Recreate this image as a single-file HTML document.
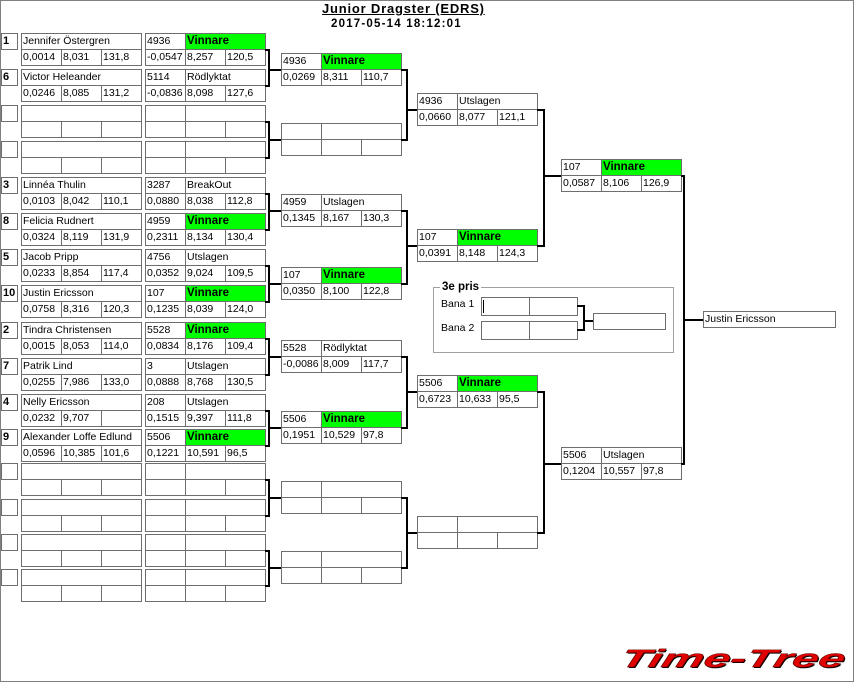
<!DOCTYPE html>
<html><head><meta charset="utf-8"><style>
body{margin:0;width:854px;height:684px;position:relative;background:#fff;overflow:hidden;font-family:"Liberation Sans",sans-serif;color:#000}
.frame{position:absolute;left:0;top:0;width:854px;height:682px;box-sizing:border-box;border:1px solid #808080}
.c{position:absolute;box-sizing:border-box;height:17px;border:1px solid #6e6e6e;font-size:10.5px;line-height:15px;padding-left:1px;white-space:nowrap;overflow:hidden;background:#fff}
.e,.r{position:absolute;left:0}
.s{left:1px;top:0;width:17px;font-weight:bold;font-size:11px}
.n{left:21px;top:0;width:121px}
.p1{left:21px;top:16px;width:41px}.p2{left:61px;top:16px;width:41px}.p3{left:101px;top:16px;width:41px}
.i{left:0;top:0;width:41px}.st{left:40px;top:0;width:81px}
.q1{left:0;top:16px;width:41px}.q2{left:40px;top:16px;width:41px}.q3{left:80px;top:16px;width:41px}
.g{background:#00ff00;font-weight:bold;font-size:11.5px}
.t{position:absolute;white-space:nowrap;font-weight:bold}
svg{position:absolute;left:0;top:0}
</style></head><body>
<div class="frame"></div>
<div class="t" style="left:322px;top:1px;font-size:13px;line-height:15px;letter-spacing:0.8px;text-decoration:underline">Junior Dragster (EDRS)</div>
<div class="t" style="left:331px;top:18px;font-size:11.5px;line-height:13px;letter-spacing:1.2px">2017-05-14 18:12:01</div>

<!-- Round 1 entrants -->
<div class="e" style="top:33px"><div class="c s">1</div><div class="c n">Jennifer Östergren</div><div class="c p1">0,0014</div><div class="c p2">8,031</div><div class="c p3">131,8</div></div>
<div class="r" style="left:145px;top:33px"><div class="c i">4936</div><div class="c st g">Vinnare</div><div class="c q1">-0,0547</div><div class="c q2">8,257</div><div class="c q3">120,5</div></div>

<div class="e" style="top:69px"><div class="c s">6</div><div class="c n">Victor Heleander</div><div class="c p1">0,0246</div><div class="c p2">8,085</div><div class="c p3">131,2</div></div>
<div class="r" style="left:145px;top:69px"><div class="c i">5114</div><div class="c st">Rödlyktat</div><div class="c q1">-0,0836</div><div class="c q2">8,098</div><div class="c q3">127,6</div></div>

<div class="e" style="top:105px"><div class="c s"></div><div class="c n"></div><div class="c p1"></div><div class="c p2"></div><div class="c p3"></div></div>
<div class="r" style="left:145px;top:105px"><div class="c i"></div><div class="c st"></div><div class="c q1"></div><div class="c q2"></div><div class="c q3"></div></div>

<div class="e" style="top:141px"><div class="c s"></div><div class="c n"></div><div class="c p1"></div><div class="c p2"></div><div class="c p3"></div></div>
<div class="r" style="left:145px;top:141px"><div class="c i"></div><div class="c st"></div><div class="c q1"></div><div class="c q2"></div><div class="c q3"></div></div>

<div class="e" style="top:177px"><div class="c s">3</div><div class="c n">Linnéa Thulin</div><div class="c p1">0,0103</div><div class="c p2">8,042</div><div class="c p3">110,1</div></div>
<div class="r" style="left:145px;top:177px"><div class="c i">3287</div><div class="c st">BreakOut</div><div class="c q1">0,0880</div><div class="c q2">8,038</div><div class="c q3">112,8</div></div>

<div class="e" style="top:213px"><div class="c s">8</div><div class="c n">Felicia Rudnert</div><div class="c p1">0,0324</div><div class="c p2">8,119</div><div class="c p3">131,9</div></div>
<div class="r" style="left:145px;top:213px"><div class="c i">4959</div><div class="c st g">Vinnare</div><div class="c q1">0,2311</div><div class="c q2">8,134</div><div class="c q3">130,4</div></div>

<div class="e" style="top:249px"><div class="c s">5</div><div class="c n">Jacob Pripp</div><div class="c p1">0,0233</div><div class="c p2">8,854</div><div class="c p3">117,4</div></div>
<div class="r" style="left:145px;top:249px"><div class="c i">4756</div><div class="c st">Utslagen</div><div class="c q1">0,0352</div><div class="c q2">9,024</div><div class="c q3">109,5</div></div>

<div class="e" style="top:285px"><div class="c s">10</div><div class="c n">Justin Ericsson</div><div class="c p1">0,0758</div><div class="c p2">8,316</div><div class="c p3">120,3</div></div>
<div class="r" style="left:145px;top:285px"><div class="c i">107</div><div class="c st g">Vinnare</div><div class="c q1">0,1235</div><div class="c q2">8,039</div><div class="c q3">124,0</div></div>

<div class="e" style="top:322px"><div class="c s">2</div><div class="c n">Tindra Christensen</div><div class="c p1">0,0015</div><div class="c p2">8,053</div><div class="c p3">114,0</div></div>
<div class="r" style="left:145px;top:322px"><div class="c i">5528</div><div class="c st g">Vinnare</div><div class="c q1">0,0834</div><div class="c q2">8,176</div><div class="c q3">109,4</div></div>

<div class="e" style="top:358px"><div class="c s">7</div><div class="c n">Patrik Lind</div><div class="c p1">0,0255</div><div class="c p2">7,986</div><div class="c p3">133,0</div></div>
<div class="r" style="left:145px;top:358px"><div class="c i">3</div><div class="c st">Utslagen</div><div class="c q1">0,0888</div><div class="c q2">8,768</div><div class="c q3">130,5</div></div>

<div class="e" style="top:394px"><div class="c s">4</div><div class="c n">Nelly Ericsson</div><div class="c p1">0,0232</div><div class="c p2">9,707</div><div class="c p3"></div></div>
<div class="r" style="left:145px;top:394px"><div class="c i">208</div><div class="c st">Utslagen</div><div class="c q1">0,1515</div><div class="c q2">9,397</div><div class="c q3">111,8</div></div>

<div class="e" style="top:429px"><div class="c s">9</div><div class="c n">Alexander Loffe Edlund</div><div class="c p1">0,0596</div><div class="c p2">10,385</div><div class="c p3">101,6</div></div>
<div class="r" style="left:145px;top:429px"><div class="c i">5506</div><div class="c st g">Vinnare</div><div class="c q1">0,1221</div><div class="c q2">10,591</div><div class="c q3">96,5</div></div>

<div class="e" style="top:463px"><div class="c s"></div><div class="c n"></div><div class="c p1"></div><div class="c p2"></div><div class="c p3"></div></div>
<div class="r" style="left:145px;top:463px"><div class="c i"></div><div class="c st"></div><div class="c q1"></div><div class="c q2"></div><div class="c q3"></div></div>

<div class="e" style="top:499px"><div class="c s"></div><div class="c n"></div><div class="c p1"></div><div class="c p2"></div><div class="c p3"></div></div>
<div class="r" style="left:145px;top:499px"><div class="c i"></div><div class="c st"></div><div class="c q1"></div><div class="c q2"></div><div class="c q3"></div></div>

<div class="e" style="top:534px"><div class="c s"></div><div class="c n"></div><div class="c p1"></div><div class="c p2"></div><div class="c p3"></div></div>
<div class="r" style="left:145px;top:534px"><div class="c i"></div><div class="c st"></div><div class="c q1"></div><div class="c q2"></div><div class="c q3"></div></div>

<div class="e" style="top:569px"><div class="c s"></div><div class="c n"></div><div class="c p1"></div><div class="c p2"></div><div class="c p3"></div></div>
<div class="r" style="left:145px;top:569px"><div class="c i"></div><div class="c st"></div><div class="c q1"></div><div class="c q2"></div><div class="c q3"></div></div>

<!-- Round 2 -->
<div class="r" style="left:281px;top:53px"><div class="c i">4936</div><div class="c st g">Vinnare</div><div class="c q1">0,0269</div><div class="c q2">8,311</div><div class="c q3">110,7</div></div>
<div class="r" style="left:281px;top:123px"><div class="c i"></div><div class="c st"></div><div class="c q1"></div><div class="c q2"></div><div class="c q3"></div></div>
<div class="r" style="left:281px;top:194px"><div class="c i">4959</div><div class="c st">Utslagen</div><div class="c q1">0,1345</div><div class="c q2">8,167</div><div class="c q3">130,3</div></div>
<div class="r" style="left:281px;top:267px"><div class="c i">107</div><div class="c st g">Vinnare</div><div class="c q1">0,0350</div><div class="c q2">8,100</div><div class="c q3">122,8</div></div>
<div class="r" style="left:281px;top:340px"><div class="c i">5528</div><div class="c st">Rödlyktat</div><div class="c q1">-0,0086</div><div class="c q2">8,009</div><div class="c q3">117,7</div></div>
<div class="r" style="left:281px;top:411px"><div class="c i">5506</div><div class="c st g">Vinnare</div><div class="c q1">0,1951</div><div class="c q2">10,529</div><div class="c q3">97,8</div></div>
<div class="r" style="left:281px;top:481px"><div class="c i"></div><div class="c st"></div><div class="c q1"></div><div class="c q2"></div><div class="c q3"></div></div>
<div class="r" style="left:281px;top:551px"><div class="c i"></div><div class="c st"></div><div class="c q1"></div><div class="c q2"></div><div class="c q3"></div></div>

<!-- Round 3 -->
<div class="r" style="left:417px;top:93px"><div class="c i">4936</div><div class="c st">Utslagen</div><div class="c q1">0,0660</div><div class="c q2">8,077</div><div class="c q3">121,1</div></div>
<div class="r" style="left:417px;top:229px"><div class="c i">107</div><div class="c st g">Vinnare</div><div class="c q1">0,0391</div><div class="c q2">8,148</div><div class="c q3">124,3</div></div>
<div class="r" style="left:417px;top:375px"><div class="c i">5506</div><div class="c st g">Vinnare</div><div class="c q1">0,6723</div><div class="c q2">10,633</div><div class="c q3">95,5</div></div>
<div class="r" style="left:417px;top:516px"><div class="c i"></div><div class="c st"></div><div class="c q1"></div><div class="c q2"></div><div class="c q3"></div></div>

<!-- Round 4 -->
<div class="r" style="left:561px;top:159px"><div class="c i">107</div><div class="c st g">Vinnare</div><div class="c q1">0,0587</div><div class="c q2">8,106</div><div class="c q3">126,9</div></div>
<div class="r" style="left:561px;top:447px"><div class="c i">5506</div><div class="c st">Utslagen</div><div class="c q1">0,1204</div><div class="c q2">10,557</div><div class="c q3">97,8</div></div>

<!-- Final -->
<div class="c" style="left:703px;top:311px;width:133px">Justin Ericsson</div>

<!-- 3e pris -->
<div style="position:absolute;left:433px;top:287px;width:241px;height:66px;box-sizing:border-box;border:1px solid #a0a0a0"></div>
<div class="t" style="left:440px;top:281px;font-size:11.5px;line-height:13px;background:#fff;padding:0 2px">3e pris</div>
<div class="t" style="left:441px;top:298px;font-size:10.5px;line-height:12px;font-weight:normal">Bana 1</div>
<div class="t" style="left:441px;top:322px;font-size:10.5px;line-height:12px;font-weight:normal">Bana 2</div>
<div class="c" style="left:481px;top:297px;width:49px;height:19px"></div>
<div class="c" style="left:529px;top:297px;width:49px;height:19px"></div>
<div class="c" style="left:481px;top:321px;width:49px;height:19px"></div>
<div class="c" style="left:529px;top:321px;width:49px;height:19px"></div>
<div style="position:absolute;left:483px;top:300px;width:1px;height:13px;background:#000"></div>
<div class="c" style="left:593px;top:313px;width:73px"></div>

<svg width="854" height="684" viewBox="0 0 854 684" shape-rendering="crispEdges">
<g fill="none" stroke="#000" stroke-width="2">
<path d="M265 50H269V86H265M269 70H281"/>
<path d="M265 122H269V158H265M269 140H281"/>
<path d="M265 194H269V230H265M269 211H281"/>
<path d="M265 266H269V302H265M269 284H281"/>
<path d="M265 339H269V375H265M269 357H281"/>
<path d="M265 411H269V446H265M269 428H281"/>
<path d="M265 480H269V516H265M269 498H281"/>
<path d="M265 551H269V586H265M269 568H281"/>
<path d="M401 70H407V140H401M407 110H417"/>
<path d="M401 211H407V284H401M407 246H417"/>
<path d="M401 357H407V428H401M407 392H417"/>
<path d="M401 498H407V568H401M407 533H417"/>
<path d="M537 110H544V246H537M544 176H561"/>
<path d="M537 392H544V533H537M544 464H561"/>
<path d="M681 176H684V464H681M684 320H703"/>
<path d="M577 306H584V330H577M584 321H593"/>
</g>
<g transform="translate(620,668) skewX(-16)" shape-rendering="auto">
<text x="0" y="0" font-family="Liberation Sans" font-size="25" font-weight="bold" font-style="italic" textLength="224" lengthAdjust="spacingAndGlyphs" fill="#000">Time-Tree</text>
</g>
<g transform="translate(619,667) skewX(-16)" shape-rendering="auto">
<text x="0" y="0" font-family="Liberation Sans" font-size="25" font-weight="bold" font-style="italic" textLength="224" lengthAdjust="spacingAndGlyphs" fill="#e00000" stroke="#600" stroke-width="0.5">Time-Tree</text>
</g>
</svg>
</body></html>
